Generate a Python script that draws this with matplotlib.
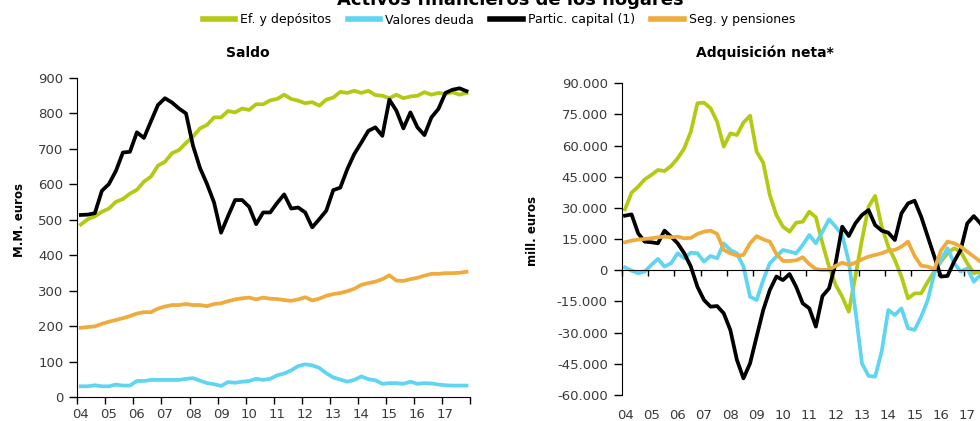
import matplotlib
matplotlib.use("Agg")
import matplotlib.pyplot as plt
from matplotlib.ticker import FuncFormatter
import numpy as np

# quarterly data 2004Q1 - 2017Q4
years = ["04", "05", "06", "07", "08", "09", "10", "11", "12", "13", "14", "15", "16", "17"]

series_names = ["Ef. y depósitos", "Valores deuda", "Partic. capital (1)", "Seg. y pensiones"]
colors = ["#b3c912", "#5fd5f2", "#000000", "#efab3c"]

# Saldo (M.M. euros)
saldo_efectivo = [487, 502, 510, 523, 532, 551, 559, 574, 585, 608, 622, 653, 664, 688, 697, 717,
                  735, 758, 768, 789, 789, 807, 803, 814, 810, 826, 826, 837, 841, 853, 841, 836,
                  829, 832, 822, 839, 845, 861, 858, 864, 858, 864, 852, 850, 843, 853, 843, 848,
                  850, 860, 853, 858, 855, 860, 853, 858]
saldo_valores = [31, 31, 34, 31, 31, 36, 33, 33, 46, 46, 49, 49, 49, 49, 49, 52,
                 54, 47, 40, 37, 32, 43, 41, 44, 46, 52, 49, 52, 62, 67, 76, 88,
                 93, 90, 83, 68, 56, 50, 44, 49, 59, 51, 48, 38, 40, 40, 38, 44,
                 38, 40, 39, 36, 34, 33, 33, 33]
saldo_acciones = [514, 515, 519, 582, 601, 638, 690, 692, 747, 731, 778, 824, 843, 831, 814, 800,
                  709, 646, 601, 549, 464, 511, 556, 556, 537, 488, 521, 521, 548, 572, 532, 535,
                  521, 479, 502, 526, 584, 591, 643, 686, 718, 751, 761, 737, 839, 808, 758, 803,
                  761, 739, 789, 813, 858, 867, 871, 863]
saldo_seguros = [196, 198, 200, 207, 213, 218, 223, 229, 236, 240, 240, 250, 256, 260, 260, 263,
                 260, 260, 257, 263, 265, 271, 276, 279, 281, 276, 281, 278, 277, 274, 272, 276,
                 282, 273, 278, 286, 291, 294, 299, 306, 317, 322, 326, 333, 344, 329, 328, 333,
                 337, 343, 348, 348, 350, 350, 351, 354]

# Adquisición neta (mill. euros)
adq_efectivo = [29350, 37370, 40260, 43790, 45870, 48280, 47800, 50200, 53900, 58700, 66700, 80400,
                80700, 78000, 71500, 59500, 65900, 65100, 71100, 74400, 57100, 51800, 36200, 26600,
                21000, 18600, 22900, 23400, 28200, 25500, 13000, 1800, -7000, -12700, -19900, -3000,
                14600, 30600, 35800, 21000, 11400, 5000, -3000, -13500, -11100, -11100, -5500, -600,
                4200, 8200, 10600, 9000, 3400, -1400, -600, 2000]
adq_valores = [1400, -200, -1400, -600, 2600, 5500, 1800, 3400, 8200, 5800, 8500, 8200,
               4200, 6900, 5800, 13000, 9800, 8200, 1800, -12700, -14300, -4700, 3400, 6600,
               9800, 9000, 8200, 12200, 17000, 13000, 18600, 24500, 21000, 17000, 4200, -19100,
               -44800, -50800, -51200, -39100, -19100, -21500, -18300, -27900, -28700, -22300, -14300, -1400,
               5000, 10600, 3400, -600, 1000, -5500, -2200, 0]
adq_acciones = [26300, 26900, 17800, 13800, 13500, 13000, 19100, 16200, 13000, 8200, 1800, -7900,
                -14300, -17500, -17200, -20700, -28700, -43100, -52000, -44800, -31900, -19100, -9500, -3000,
                -4700, -1800, -7900, -15900, -18300, -27100, -12400, -8700, 3400, 21000, 16500, 22600,
                26600, 29000, 21800, 19100, 18100, 14600, 27400, 32200, 33500, 25800, 16200, 6600,
                -3000, -2700, 4200, 9800, 22600, 26100, 22600, 18000]
adq_seguros = [13500, 14300, 14800, 15100, 15400, 15900, 16200, 15900, 16200, 15400, 15600, 17500,
               18600, 19100, 17500, 9800, 8200, 7100, 7400, 13000, 16500, 14900, 13800, 7900,
               4500, 4500, 4800, 6300, 3000, 600, 200, 200, 2100, 3700, 2600, 3700,
               5300, 6600, 7400, 8200, 9500, 9800, 11400, 13800, 6900, 2200, 1800, 500,
               9500, 13800, 13000, 11400, 9000, 6600, 4200, 2500]

x = np.arange(len(saldo_efectivo))
n = len(x)
lw = 2.7
tick_color = "#3a3a3a"

fig = plt.figure(figsize=(9.8, 4.21), dpi=100)

# ---- left panel: Saldo ----
ax1 = fig.add_axes([0.0789, 0.0563, 0.4007, 0.7584])
for vals, c in zip([saldo_efectivo, saldo_valores, saldo_acciones, saldo_seguros], colors):
    ax1.plot(x, vals, color=c, lw=lw, solid_joinstyle="round")
ax1.set_xlim(-0.5, n - 0.5)
ax1.set_ylim(0, 900)
ax1.set_yticks(range(0, 901, 100))
ax1.set_xticks(np.arange(-0.5, n, 4))
ax1.set_xticklabels([])
ax1.set_xticks(np.arange(0, n, 4), minor=True)
ax1.set_xticklabels(years, minor=True)
ax1.tick_params(axis="x", which="major", direction="out", length=5, width=1)
ax1.tick_params(axis="x", which="minor", length=0, pad=8, labelsize=9.5, labelcolor=tick_color)
ax1.tick_params(axis="y", direction="out", length=6, width=1, labelsize=9.5, labelcolor=tick_color, pad=4)
for s in ["top", "right"]:
    ax1.spines[s].set_visible(False)
ax1.set_ylabel("M.M. euros", fontsize=8.5, fontweight="bold")
ax1.yaxis.set_label_coords(-0.130, 0.555)

# ---- right panel: Adquisición neta ----
ax2 = fig.add_axes([0.6344, 0.0618, 0.3761, 0.7403])
for vals, c in zip([adq_efectivo, adq_valores, adq_acciones, adq_seguros], colors):
    ax2.plot(x, vals, color=c, lw=lw, solid_joinstyle="round")
ax2.set_xlim(-0.5, n - 0.5)
ax2.set_ylim(-60000, 90000)
ax2.set_yticks(range(-60000, 90001, 15000))
ax2.yaxis.set_major_formatter(FuncFormatter(lambda v, p: f"{int(v):,}".replace(",", ".")))
ax2.spines["bottom"].set_position(("data", 0))
ax2.set_xticks(np.arange(-0.5, n, 4))
ax2.set_xticklabels([])
ax2.tick_params(axis="x", direction="out", length=4, width=1)
ax2.tick_params(axis="y", direction="out", length=6, width=1, labelsize=9.5, labelcolor=tick_color, pad=4)
for s in ["top", "right"]:
    ax2.spines[s].set_visible(False)
for i, yr in enumerate(years):
    ax2.text(i * 4, -0.065, yr, transform=ax2.get_xaxis_transform(), ha="center", va="center",
             fontsize=9.5, color=tick_color)
ax2.set_ylabel("mill. euros", fontsize=8.5, fontweight="bold")
ax2.yaxis.set_label_coords(-0.2256, 0.525)

# titles
fig.text(0.521, 1 - 5 / 421, "Activos financieros de los hogares", ha="center", va="baseline",
         fontsize=13, fontweight="bold")
fig.text(248 / 980, 1 - 53 / 421, "Saldo", ha="center", va="center", fontsize=10, fontweight="bold")
fig.text(765 / 980, 1 - 53 / 421, "Adquisición neta*", ha="center", va="center", fontsize=10,
         fontweight="bold")

handles = [plt.Line2D([], [], color=c, lw=4) for c in colors]
fig.legend(handles, series_names, loc="center", bbox_to_anchor=(499 / 980, 1 - 20 / 421), ncol=4,
           frameon=False, fontsize=9, handlelength=2.6, columnspacing=1.3, handletextpad=0.4)

fig.savefig("out.png", dpi=100)
